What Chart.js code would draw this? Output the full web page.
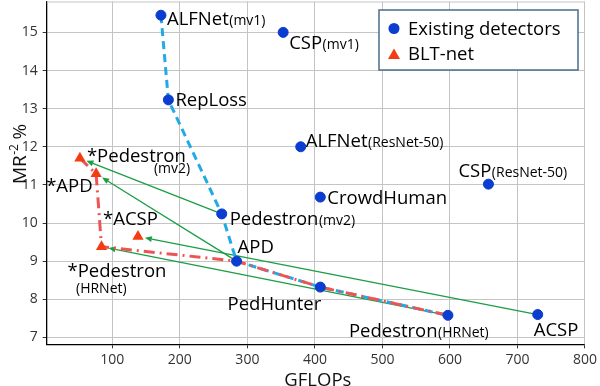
<!DOCTYPE html>
<html>
<head>
<meta charset="utf-8">
<script src="https://cdn.jsdelivr.net/npm/chart.js@4.4.1/dist/chart.umd.min.js"></script>
<style>
  html, body { margin: 0; padding: 0; background: #fff; }
</style>
</head>
<body>
<canvas id="chart" width="600" height="386"></canvas>
<script>
// existing detectors
const existingNames = ["ALFNet(mv1)", "CSP(mv1)", "RepLoss", "ALFNet(ResNet-50)", "CSP(ResNet-50)",
  "CrowdHuman", "Pedestron(mv2)", "APD", "PedHunter", "Pedestron(HRNet)", "ACSP"];
const existingGflops = [172, 353, 183, 379, 657, 408, 262, 284, 408, 597, 730];
const existingMR = [15.45, 15.0, 13.23, 12.0, 11.02, 10.68, 10.24, 9.0, 8.32, 7.58, 7.6];

// BLT-net versions
const bltNames = ["*Pedestron(mv2)", "*APD", "*ACSP", "*Pedestron(HRNet)"];
const bltGflops = [52, 76, 138, 84];
const bltMR = [11.7, 11.29, 9.65, 9.38];

// fronts and arrows, by name
const existingFront = ["ALFNet(mv1)", "RepLoss", "Pedestron(mv2)", "APD", "PedHunter", "Pedestron(HRNet)"];
const bltFront = ["*Pedestron(mv2)", "*APD", "*Pedestron(HRNet)", "APD", "PedHunter", "Pedestron(HRNet)"];
const arrowFrom = ["Pedestron(mv2)", "APD", "ACSP", "Pedestron(HRNet)"];
const arrowTo = ["*Pedestron(mv2)", "*APD", "*ACSP", "*Pedestron(HRNet)"];

const xTicks = [100, 200, 300, 400, 500, 600, 700, 800];
const yTicks = [7, 8, 9, 10, 11, 12, 13, 14, 15];

const BLUE = "#0b3dd0";
const RED = "#f33c12";
const FONT = "'Open Sans', 'DejaVu Sans', sans-serif";
const PLOT_TOP = 1.5;

// label placement in pixels, relative to the point
const labelLayout = {
  "ALFNet(mv1)": { dx: 6, dy: 10 },
  "CSP(mv1)": { dx: 6, dy: 17 },
  "RepLoss": { dx: 7, dy: 6.5 },
  "ALFNet(ResNet-50)": { dx: 5, dy: 0.5 },
  "CSP(ResNet-50)": { dx: -30, dy: -7.5 },
  "CrowdHuman": { dx: 7, dy: 6.7 },
  "Pedestron(mv2)": { dx: 8, dy: 11 },
  "APD": { dx: 1, dy: -8.3 },
  "PedHunter": { dx: 1, dy: 23.3, align: "right" },
  "Pedestron(HRNet)": { dx: -99, dy: 22 },
  "ACSP": { dx: -4, dy: 21.5 },
  "*Pedestron(mv2)": { dx: 7, dy: 3.5, below: { dx: 67, dy: 15 } },
  "*APD": { dx: -50, dy: 18.5 },
  "*ACSP": { dx: -35, dy: -11.5 },
  "*Pedestron(HRNet)": { dx: -34, dy: 30, below: { dx: 8.5, dy: 46.5 } },
};

function pointOf(name) {
  let i = existingNames.indexOf(name);
  if (i >= 0) return { x: existingGflops[i], y: existingMR[i] };
  i = bltNames.indexOf(name);
  return { x: bltGflops[i], y: bltMR[i] };
}

function toXY(xs, ys) {
  return xs.map((x, i) => ({ x, y: ys[i] }));
}

const arrowPlugin = {
  id: "arrows",
  beforeDatasetsDraw(chart) {
    const { ctx, scales } = chart;
    ctx.save();
    ctx.strokeStyle = "#1a9e44";
    ctx.fillStyle = "#1a9e44";
    ctx.lineWidth = 1.3;
    arrowFrom.forEach((from, i) => {
      const a = pointOf(from);
      const b = pointOf(arrowTo[i]);
      const x1 = scales.x.getPixelForValue(a.x);
      const y1 = scales.y.getPixelForValue(a.y);
      const x2 = scales.x.getPixelForValue(b.x);
      const y2 = scales.y.getPixelForValue(b.y);
      const ang = Math.atan2(y2 - y1, x2 - x1);
      const tipX = x2 - Math.cos(ang) * 7;
      const tipY = y2 - Math.sin(ang) * 7;
      const headLen = 7;
      const baseX = tipX - Math.cos(ang) * headLen;
      const baseY = tipY - Math.sin(ang) * headLen;
      ctx.beginPath();
      ctx.moveTo(x1, y1);
      ctx.lineTo(baseX, baseY);
      ctx.stroke();
      ctx.beginPath();
      ctx.moveTo(tipX, tipY);
      ctx.lineTo(baseX + Math.sin(ang) * 3, baseY - Math.cos(ang) * 3);
      ctx.lineTo(baseX - Math.sin(ang) * 3, baseY + Math.cos(ang) * 3);
      ctx.closePath();
      ctx.fill();
    });
    ctx.restore();
  },
};

function drawLabel(ctx, name, px, py) {
  const lay = labelLayout[name] || { dx: 6, dy: 6 };
  const m = name.match(/^([^(]*)(\(.*\))?$/);
  const main = m[1];
  const sub = m[2] || "";
  const mainFont = "18.5px " + FONT;
  const subFont = "14px " + FONT;
  ctx.textBaseline = "alphabetic";
  ctx.textAlign = "left";
  ctx.font = mainFont;
  const mainW = ctx.measureText(main).width;
  ctx.font = subFont;
  const subW = ctx.measureText(sub).width;
  let x = px + lay.dx;
  const y = py + lay.dy;
  if (lay.align === "right") x -= mainW + (lay.below ? 0 : subW);
  ctx.font = mainFont;
  ctx.fillText(main, x, y);
  if (!sub) return;
  ctx.font = subFont;
  if (lay.below) {
    ctx.fillText(sub, x + lay.below.dx, py + lay.below.dy);
  } else {
    ctx.fillText(sub, x + mainW + 0.5, y);
  }
}

const decorPlugin = {
  id: "decor",
  afterLayout(chart) {
    // pull the plot area up to the top edge, like the original figure
    const ca = chart.chartArea;
    const y = chart.scales.y;
    ca.top = PLOT_TOP;
    ca.height = ca.bottom - ca.top;
    y.top = PLOT_TOP;
    y.height = y.bottom - y.top;
    y.configure();
  },
  beforeDraw(chart) {
    const { ctx } = chart;
    ctx.save();
    ctx.fillStyle = "#fff";
    ctx.fillRect(0, 0, chart.width, chart.height);
    ctx.restore();
  },
  beforeDatasetsDraw(chart) {
    const { ctx, chartArea: ca } = chart;
    ctx.save();
    ctx.strokeStyle = "#c4c4c4";
    ctx.lineWidth = 1;
    ctx.beginPath();
    ctx.moveTo(ca.left, ca.top + 0.5);
    ctx.lineTo(ca.right - 0.5, ca.top + 0.5);
    ctx.lineTo(ca.right - 0.5, ca.bottom);
    ctx.stroke();
    ctx.restore();
  },
  afterDatasetsDraw(chart) {
    const { ctx, scales, chartArea: ca } = chart;
    ctx.save();
    ctx.fillStyle = "#000";
    existingNames.forEach((name, i) => {
      drawLabel(ctx, name, scales.x.getPixelForValue(existingGflops[i]), scales.y.getPixelForValue(existingMR[i]));
    });
    bltNames.forEach((name, i) => {
      drawLabel(ctx, name, scales.x.getPixelForValue(bltGflops[i]), scales.y.getPixelForValue(bltMR[i]));
    });

    // axis titles
    ctx.font = "18.5px " + FONT;
    ctx.textAlign = "center";
    ctx.fillStyle = "#111";
    ctx.fillText("GFLOPs", (ca.left + ca.right) / 2 + 2, 386);

    ctx.translate(26, 154);
    ctx.rotate(-Math.PI / 2);
    ctx.textAlign = "left";
    const big = "19px " + FONT;
    const small = "12px " + FONT;
    ctx.font = big;
    const w1 = ctx.measureText("MR").width;
    const w3 = ctx.measureText(" %").width;
    ctx.font = small;
    const w2 = ctx.measureText("-2").width;
    let x = -(w1 + w2 + w3) / 2;
    ctx.font = big;
    ctx.fillText("MR", x, 0);
    x += w1;
    ctx.font = small;
    ctx.fillText("-2", x + 0.5, -8);
    x += w2;
    ctx.font = big;
    ctx.fillText(" %", x, 0);
    ctx.restore();

    // legend
    ctx.save();
    ctx.fillStyle = "#fff";
    ctx.fillRect(379, 10, 199, 60);
    ctx.strokeStyle = "#4a6c8c";
    ctx.lineWidth = 1.5;
    ctx.strokeRect(379, 10, 199, 60);
    const ds = chart.data.datasets;
    ctx.fillStyle = ds[0].backgroundColor;
    ctx.beginPath();
    ctx.arc(394, 28.5, 5.5, 0, Math.PI * 2);
    ctx.fill();
    ctx.fillStyle = ds[1].backgroundColor;
    ctx.beginPath();
    ctx.moveTo(394, 48.5);
    ctx.lineTo(400, 59);
    ctx.lineTo(388, 59);
    ctx.closePath();
    ctx.fill();
    ctx.fillStyle = "#000";
    ctx.font = "18.5px " + FONT;
    ctx.textAlign = "left";
    ctx.fillText(ds[0].label, 408, 34.5);
    ctx.fillText(ds[1].label, 408, 59.5);
    ctx.restore();
  },
};

function buildChart() {
  const ctx = document.getElementById("chart");

  new Chart(ctx, {
    type: "scatter",
    data: {
      datasets: [
        {
          label: "Existing detectors",
          data: toXY(existingGflops, existingMR),
          backgroundColor: BLUE,
          borderColor: BLUE,
          pointRadius: 5,
          pointBorderWidth: 1,
          order: 1,
        },
        {
          label: "BLT-net",
          data: toXY(bltGflops, bltMR),
          backgroundColor: RED,
          borderColor: RED,
          pointStyle: "triangle",
          pointRadius: 6.5,
          pointBorderWidth: 0,
          order: 0,
        },
        {
          label: "existing front",
          data: existingFront.map(pointOf),
          showLine: true,
          pointRadius: 0,
          borderColor: "#22aae6",
          borderWidth: 3,
          borderDash: [8, 5],
          order: 3,
        },
        {
          label: "BLT front",
          data: bltFront.map(pointOf),
          showLine: true,
          pointRadius: 0,
          borderColor: "#ef5454",
          borderWidth: 3,
          borderDash: [11, 5, 2, 5],
          order: 2,
        },
      ],
    },
    options: {
      responsive: false,
      animation: false,
      layout: { padding: { top: 1.5, right: 14, left: 0, bottom: 0 } },
      plugins: {
        legend: { display: false },
        tooltip: { enabled: false },
      },
      scales: {
        x: {
          type: "linear",
          min: 2.8,
          max: 800,
          afterBuildTicks: (scale) => {
            scale.ticks = xTicks.map((v) => ({ value: v }));
          },
          afterFit: (scale) => {
            scale.height = 41.7;
          },
          ticks: {
            font: { family: FONT, size: 14 },
            color: "#333",
            padding: 3,
            maxRotation: 0,
          },
          grid: { color: "#c4c4c4", lineWidth: 1, tickLength: 4, tickColor: "#333" },
          border: { color: "#000", width: 1.3 },
        },
        y: {
          type: "linear",
          min: 6.82,
          max: 15.81,
          afterBuildTicks: (scale) => {
            scale.ticks = yTicks.map((v) => ({ value: v }));
          },
          afterFit: (scale) => {
            scale.width = 46.7;
          },
          ticks: {
            font: { family: FONT, size: 14 },
            color: "#333",
            padding: 5,
          },
          grid: { color: "#c4c4c4", lineWidth: 1, tickLength: 4, tickColor: "#333" },
          border: { color: "#000", width: 1.3 },
        },
      },
    },
    plugins: [decorPlugin, arrowPlugin],
  });
}

document.addEventListener("DOMContentLoaded", buildChart);
</script>
</body>
</html>
